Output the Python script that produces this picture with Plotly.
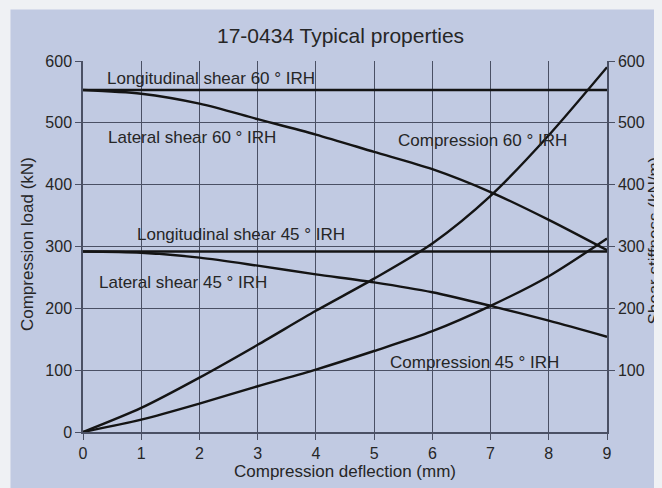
import plotly.graph_objects as go

deflection = [0, 1, 2, 3, 4, 5, 6, 7, 8, 9]
long_shear_60 = [553, 553, 553, 553, 553, 553, 553, 553, 553, 553]
lat_shear_60 = [553, 547, 531, 506, 481, 453, 425, 388, 343, 294]
compression_60 = [0, 39, 88, 141, 196, 248, 305, 382, 480, 590]
long_shear_45 = [292, 292, 292, 292, 292, 292, 292, 292, 292, 292]
lat_shear_45 = [292, 290, 282, 269, 255, 242, 226, 204, 180, 154]
compression_45 = [0, 20, 46, 74, 101, 131, 163, 204, 252, 313]

y_ticks = [0, 100, 200, 300, 400, 500, 600]
y2_ticks = [100, 200, 300, 400, 500, 600]
x_ticks = [0, 1, 2, 3, 4, 5, 6, 7, 8, 9]

labels = [
    ("Longitudinal shear 60 ° IRH", 0.38, 572),
    ("Lateral shear 60 ° IRH", 0.395, 476),
    ("Compression 60 ° IRH", 5.38, 471),
    ("Longitudinal shear 45 ° IRH", 0.89, 319),
    ("Lateral shear 45 ° IRH", 0.245, 242),
    ("Compression 45 ° IRH", 5.23, 112),
]

FONT = "Liberation Sans, Arial, sans-serif"
TXT = "#262626"
GRID = "#4a5064"
PANEL = "#c1cae2"
OUTER = "#eff1f4"

fig = go.Figure()
for ys in [long_shear_60, lat_shear_60, compression_60,
           long_shear_45, lat_shear_45, compression_45]:
    fig.add_trace(go.Scatter(x=deflection, y=ys, mode="lines",
                             line=dict(color="#141414", width=2.4, shape="spline", smoothing=0.8),
                             showlegend=False, hoverinfo="skip"))

# invisible trace for the right axis
fig.add_trace(go.Scatter(x=[0], y=[0], yaxis="y2", mode="markers",
                         marker=dict(opacity=0), showlegend=False, hoverinfo="skip"))

ann = []
for t, x, y in labels:
    ann.append(dict(text=t, x=x, y=y, xref="x", yref="y", xanchor="left", yanchor="middle",
                    showarrow=False, font=dict(family=FONT, size=17, color=TXT)))
ann.append(dict(text="17-0434 Typical properties", x=0.4914, y=1.0686, xref="paper", yref="paper",
                xanchor="center", yanchor="middle", showarrow=False,
                font=dict(family=FONT, size=21, color=TXT)))
ann.append(dict(text="Compression load (kN)", x=-0.1069, y=0.5066, xref="paper", yref="paper",
                xanchor="center", yanchor="middle", textangle=-90, showarrow=False,
                font=dict(family=FONT, size=17, color=TXT)))
ann.append(dict(text="Shear stiffness (kN/m)", x=1.0905, y=0.517, xref="paper", yref="paper",
                xanchor="center", yanchor="middle", textangle=-90, showarrow=False,
                font=dict(family=FONT, size=17, color=TXT)))

fig.update_layout(
    width=654, height=480,
    margin=dict(l=75, r=55, t=53, b=48),
    paper_bgcolor=OUTER, plot_bgcolor=PANEL,
    annotations=ann,
    shapes=[dict(type="rect", xref="paper", yref="paper", x0=-0.1384, x1=1.3, y0=-0.3, y1=1.139,
                 fillcolor=PANEL, line=dict(width=0), layer="below")],
    xaxis=dict(range=[0, 9], tickvals=x_ticks, showgrid=True, gridcolor=GRID, gridwidth=1.2,
               zeroline=False, showline=True, linecolor=GRID, linewidth=1.5, mirror=False,
               ticks="outside", ticklen=6, tickcolor=GRID, tickwidth=1.2,
               tickfont=dict(family=FONT, size=16, color=TXT),
               title=dict(text="Compression deflection (mm)", standoff=2,
                          font=dict(family=FONT, size=17, color=TXT))),
    yaxis=dict(range=[0, 600], tickvals=y_ticks, showgrid=True, gridcolor=GRID, gridwidth=1.2,
               zeroline=False, showline=True, linecolor=GRID, linewidth=1.5,
               ticks="outside", ticklen=6, tickcolor=GRID, tickwidth=1.2,
               tickfont=dict(family=FONT, size=16, color=TXT)),
    yaxis2=dict(range=[0, 600], tickvals=y2_ticks, overlaying="y", side="right", anchor="x",
                showgrid=False, zeroline=False, showline=True, linecolor=GRID, linewidth=1.5,
                ticks="outside", ticklen=6, tickcolor=GRID, tickwidth=1.2,
                tickfont=dict(family=FONT, size=16, color=TXT)),
)

fig.write_html("out.html", post_script="document.body.style.background='#eff1f4';")
